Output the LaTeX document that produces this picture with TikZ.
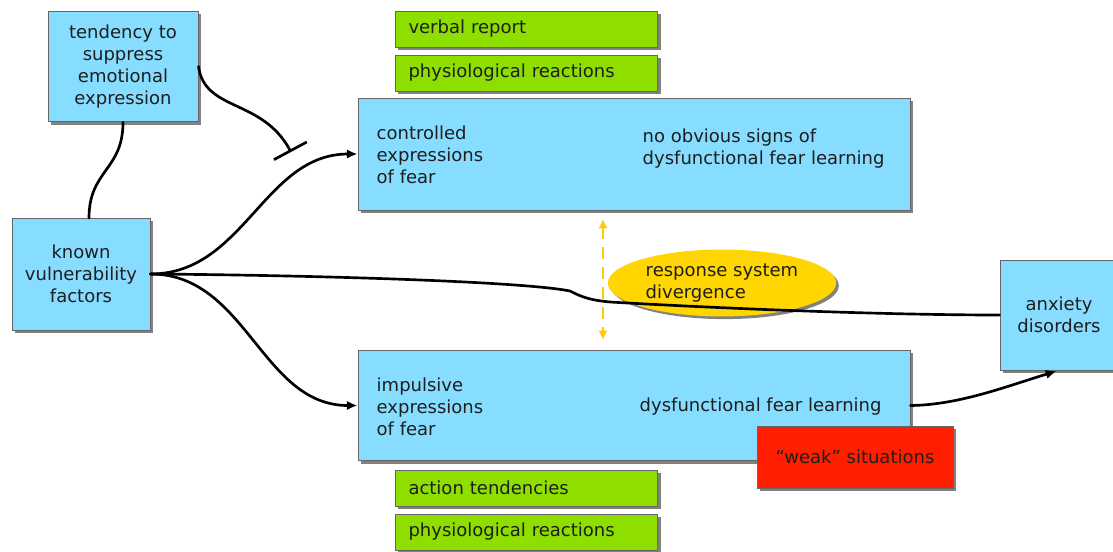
\documentclass[tikz,border=0pt]{standalone}
\usepackage{fontspec}
\setmainfont{DejaVu Sans}
\usepackage{xcolor}
\definecolor{textcolor}{RGB}{30,30,30}
\definecolor{boxblue}{RGB}{135,221,255}
\definecolor{boxgreen}{RGB}{142,222,0}
\definecolor{boxred}{RGB}{255,30,0}
\definecolor{ellyellow}{RGB}{255,214,0}
\definecolor{dashyellow}{RGB}{255,200,0}
\usetikzlibrary{arrows.meta,shapes.geometric,shadows}

\begin{document}
\begin{tikzpicture}[x=0.75pt, y=-0.75pt,
  every node/.style={color=textcolor, font=\fontsize{13.5}{16.5}\selectfont},
  shadowed/.style={drop shadow={shadow xshift=2pt, shadow yshift=-2pt, fill=black!70, opacity=0.7}},
  bluebox/.style={draw=black!60, line width=0.7pt, fill=boxblue, shadowed, align=center, inner sep=0pt},
  greenbox/.style={draw=black!60, line width=0.7pt, fill=boxgreen, shadowed, align=left,
    text width=177pt, inner xsep=10pt, inner ysep=0pt, minimum height=27pt},
  label/.style={anchor=west, align=left},
  link/.style={line width=2pt, line cap=round},
  arr/.style={link, -{Latex[length=8pt, width=7pt]}}]

  \useasboundingbox (0,0) rectangle (1113,551);

  % boxes
  \node[bluebox, minimum width=112.5pt, minimum height=83pt] (tend) at (123,66.5)
    {tendency to\\suppress\\emotional\\expression};
  \node[bluebox, minimum width=103.5pt, minimum height=84pt] (known) at (81,274)
    {known\\vulnerability\\factors};
  \node[greenbox] (verbal) at (526.5,29) {verbal report};
  \node[greenbox] (physA) at (526.5,73) {physiological reactions};
  \node[bluebox, minimum width=414pt, minimum height=84pt] (ctrl) at (634,154) {};
  \node[label] (ctrlA) at (372,155) {controlled\\expressions\\of fear};
  \node[label] (ctrlB) at (638,149) {no obvious signs of\\dysfunctional fear learning};
  \node[bluebox, minimum width=414pt, minimum height=83pt] (impl) at (634,405.5) {};
  \node[label] (implA) at (372,407) {impulsive\\expressions\\of fear};
  \node[label] (implB) at (635,407) {dysfunctional fear learning};
  \node[bluebox, fill=boxred, minimum width=147pt, minimum height=46.5pt] (weak) at (855,457)
    {“weak” situations};
  \node[greenbox] (action) at (526.5,488) {action tendencies};
  \node[greenbox] (physB) at (526.5,532) {physiological reactions};
  \node[bluebox, minimum width=88.5pt, minimum height=82.5pt] (anx) at (1059,315)
    {anxiety\\disorders};
  \node[ellipse, fill=ellyellow, shadowed, minimum width=160pt, minimum height=49.5pt,
    align=left] (diverge) at (722,283) {response system\\divergence};

  % connectors
  \coordinate (knowntop) at (89,218);
  \coordinate (block) at (291,152);
  \coordinate (dtop) at (603,219);
  \coordinate (dbot) at (603,340);

  \draw[link] (tend.south) .. controls +(0,48) and +(0,-48) .. (knowntop);
  \draw[link, -{Bar[width=28pt, line width=2pt]}] (tend.east)
    .. controls (205,112) and (262,98) .. (block);
  \draw[arr] (known.east) to[out=0, in=180] (ctrl.west);
  \draw[arr] (known.east) to[out=0, in=180] (impl.west);
  \draw[link] (known.east) .. controls (300,275) and (520,281) .. (570,291)
    .. controls (580,296) and (588,300) .. (610,302)
    .. controls (750,310) and (900,315) .. (anx.west);
  \draw[arr, shorten >=2pt] (impl.east) .. controls (960,405) and (1010,385) .. (anx.south);
  \draw[dashyellow, line width=2pt, dash pattern=on 9pt off 6pt,
    {Latex[length=7pt, width=7pt]}-{Latex[length=7pt, width=7pt]}] (dtop) -- (dbot);
\end{tikzpicture}
\end{document}
